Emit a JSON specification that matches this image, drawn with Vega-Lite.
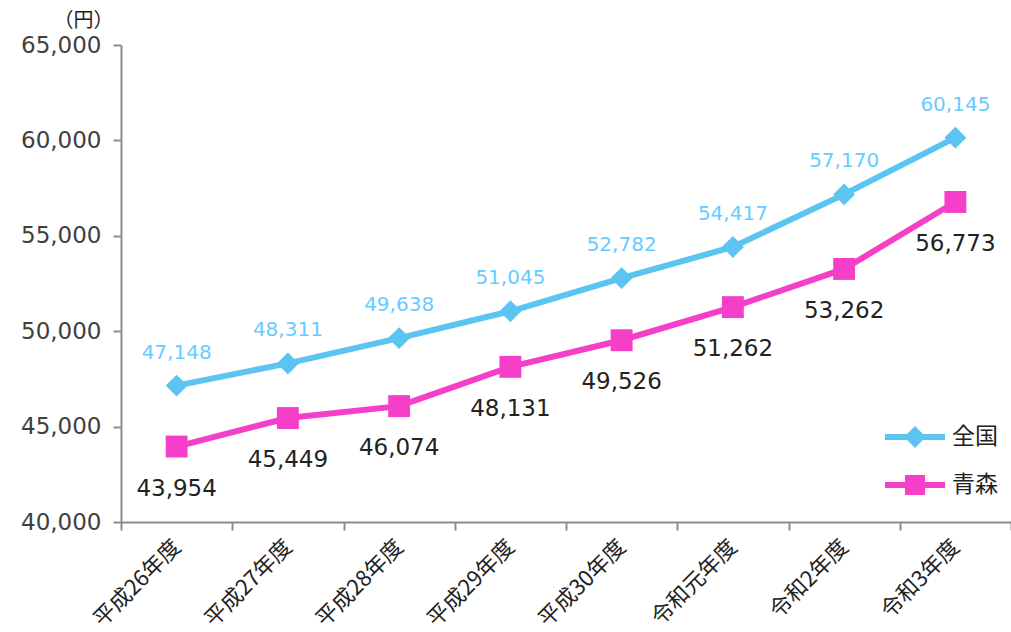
{
  "$schema": "https://vega.github.io/schema/vega-lite/v6.json",
  "autosize": "none",
  "width": 890,
  "height": 477,
  "padding": {"left": 121, "top": 45, "right": 0, "bottom": 110},
  "config": {"view": {"stroke": null}, "font": "Noto Sans CJK JP"},
  "data": {"values": [
    {"年度": "平成26年度", "系列": "全国", "値": 47148},
    {"年度": "平成27年度", "系列": "全国", "値": 48311},
    {"年度": "平成28年度", "系列": "全国", "値": 49638},
    {"年度": "平成29年度", "系列": "全国", "値": 51045},
    {"年度": "平成30年度", "系列": "全国", "値": 52782},
    {"年度": "令和元年度", "系列": "全国", "値": 54417},
    {"年度": "令和2年度", "系列": "全国", "値": 57170},
    {"年度": "令和3年度", "系列": "全国", "値": 60145},
    {"年度": "平成26年度", "系列": "青森", "値": 43954},
    {"年度": "平成27年度", "系列": "青森", "値": 45449},
    {"年度": "平成28年度", "系列": "青森", "値": 46074},
    {"年度": "平成29年度", "系列": "青森", "値": 48131},
    {"年度": "平成30年度", "系列": "青森", "値": 49526},
    {"年度": "令和元年度", "系列": "青森", "値": 51262},
    {"年度": "令和2年度", "系列": "青森", "値": 53262},
    {"年度": "令和3年度", "系列": "青森", "値": 56773}
  ]},
  "encoding": {
    "x": {
      "field": "年度", "type": "nominal", "sort": null, "bandPosition": 0.5,
      "scale": {"type": "band", "paddingInner": 0, "paddingOuter": 0},
      "axis": {
        "title": null, "labelAngle": -45, "labelAlign": "right", "labelBaseline": "middle",
        "labelFontSize": 22, "labelColor": "#222222", "labelPadding": 13,
        "tickBand": "extent", "tickSize": 8, "tickColor": "#8c8c8c", "tickWidth": 2,
        "domainColor": "#8c8c8c", "domainWidth": 2, "grid": false
      }
    },
    "y": {
      "field": "値", "type": "quantitative",
      "scale": {"domain": [40000, 65000], "nice": false, "zero": false},
      "axis": {
        "title": "（円）", "titleAngle": 0, "titleAlign": "center", "titleBaseline": "middle",
        "titleX": -38, "titleY": -25, "titleFontSize": 20, "titleFontWeight": "normal", "titleColor": "#222222",
        "values": [40000, 45000, 50000, 55000, 60000, 65000], "format": ",.0f",
        "labelFont": "DejaVu Sans", "labelFontSize": 23, "labelColor": "#404040", "labelPadding": 12,
        "tickSize": 8, "tickColor": "#8c8c8c", "tickWidth": 2,
        "domainColor": "#8c8c8c", "domainWidth": 2, "grid": false
      }
    }
  },
  "layer": [
    {
      "mark": {"type": "line", "strokeWidth": 6},
      "encoding": {
        "color": {"field": "系列", "type": "nominal", "scale": {"domain": ["全国", "青森"], "range": ["#5BC4F1", "#F53FC9"]},
          "legend": {
            "title": null, "orient": "none", "legendX": 779, "legendY": 377, "padding": 0,
            "symbolSize": 900, "symbolStrokeWidth": 0, "rowPadding": 21, "labelOffset": 22,
            "labelFontSize": 23, "labelColor": "#222222",
            "encode": {"symbols": {"update": {"shape": {"signal": "datum.value === '全国' ? 'M-2,-0.2H-0.53L0,-0.73L0.53,-0.2H2V0.2H0.53L0,0.73L-0.53,0.2H-2Z' : 'M-2,-0.2H-0.67V-0.67H0.67V-0.2H2V0.2H0.67V0.67H-0.67V0.2H-2Z'"}, "fill": {"signal": "datum.value === '全国' ? '#5BC4F1' : '#F53FC9'"}, "strokeWidth": {"value": 0}, "opacity": {"value": 1}}}}
          }}
      }
    },
    {
      "transform": [{"filter": "datum['系列'] === '全国'"}],
      "mark": {"type": "point", "filled": true, "size": 480, "opacity": 1, "shape": "diamond", "color": "#5BC4F1"}
    },
    {
      "transform": [{"filter": "datum['系列'] === '青森'"}],
      "mark": {"type": "point", "filled": true, "size": 480, "opacity": 1, "shape": "square", "color": "#F53FC9"}
    },
    {
      "transform": [{"filter": "datum['系列'] === '全国'"}],
      "mark": {"type": "text", "dy": -33, "fontSize": 20, "font": "DejaVu Sans", "fill": "#66CCFF"},
      "encoding": {"text": {"field": "値", "type": "quantitative", "format": ","}}
    },
    {
      "transform": [{"filter": "datum['系列'] === '青森'"}],
      "mark": {"type": "text", "dy": 42, "fontSize": 23, "font": "DejaVu Sans", "fill": "#222222"},
      "encoding": {"text": {"field": "値", "type": "quantitative", "format": ","}}
    }
  ]
}
